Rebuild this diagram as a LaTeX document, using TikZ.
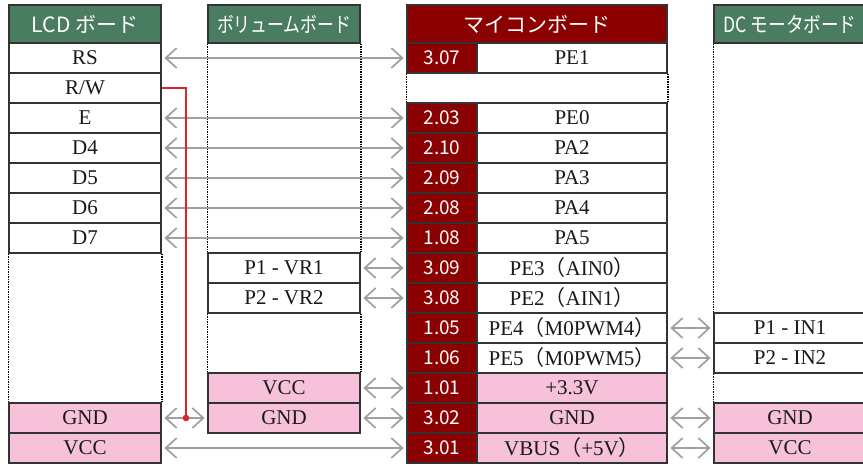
\documentclass[tikz,border=0pt]{standalone}
\usepackage{graphicx}
\usepackage{fontspec}
\setmainfont{Liberation Serif}
\newfontfamily\cjk{Noto Sans CJK JP}
\usetikzlibrary{arrows.meta}
\definecolor{hdrgreen}{HTML}{4A7C62}
\definecolor{mcured}{HTML}{8B0000}
\definecolor{pinkcell}{HTML}{F6C1D9}
\definecolor{bordergray}{HTML}{333333}
\definecolor{arrowgray}{HTML}{A0A0A0}
\definecolor{wirered}{HTML}{D9262E}
\newcommand{\fp}[1]{{\cjk #1}}
\tikzset{
 cell/.style={draw=bordergray, line width=1.8pt, minimum height=30pt, inner sep=0pt,
   font=\fontsize{21}{21}\selectfont, text=black!90, fill=white},
 widecell/.style={cell, minimum width=152pt},
 namecell/.style={cell, minimum width=190pt},
 numcell/.style={cell, minimum width=70pt, fill=mcured, text=white, font=\cjk\fontsize{19}{19}\selectfont},
 pinkfill/.style={fill=pinkcell},
 hdr/.style={draw=bordergray, line width=1.8pt, minimum height=38pt, inner sep=0pt,
   text=white, font=\cjk\fontsize{21}{21}\selectfont},
 conn/.style={draw=arrowgray, line width=1.7pt,
   {Straight Barb[length=11pt,width=20pt]}-{Straight Barb[length=11pt,width=20pt]},
   shorten <=2.5pt, shorten >=2.5pt},
 dotline/.style={draw=black, line width=1.2pt, dash pattern=on 1.2pt off 1.3pt},
 wire/.style={draw=wirered, line width=1.5pt},
}
\begin{document}
\begin{tikzpicture}[x=1pt,y=-1pt]
\clip (0,0) rectangle (863,467);
\fill[white] (0,0) rectangle (863,467);

% ---------- headers ----------
\node[hdr, fill=hdrgreen, minimum width=152pt] (lcdHdr) at (85,24) {LCD ボード};
\node[hdr, fill=hdrgreen, minimum width=152pt] (volHdr) at (284,24) {\scalebox{0.8}[1]{ボリュームボード}};
\node[hdr, fill=mcured, minimum width=260pt] (mcuHdr) at (537,24) {マイコンボード};
\node[hdr, fill=hdrgreen, minimum width=152pt] (dcHdr) at (790,24) {\scalebox{0.84}[1]{DC モータボード}};

% ---------- LCD board ----------
\node[widecell] (lcdRS)  at (85,58)  {RS};
\node[widecell] (lcdRW)  at (85,88)  {R/W};
\node[widecell] (lcdE)   at (85,118) {E};
\node[widecell] (lcdD4)  at (85,148) {D4};
\node[widecell] (lcdD5)  at (85,178) {D5};
\node[widecell] (lcdD6)  at (85,208) {D6};
\node[widecell] (lcdD7)  at (85,238) {D7};
\node[widecell, pinkfill] (lcdGND) at (85,418) {GND};
\node[widecell, pinkfill] (lcdVCC) at (85,448) {VCC};

% ---------- volume board ----------
\node[widecell] (volVR1) at (284,268) {P1 - VR1};
\node[widecell] (volVR2) at (284,298) {P2 - VR2};
\node[widecell, pinkfill] (volVCC) at (284,388) {VCC};
\node[widecell, pinkfill] (volGND) at (284,418) {GND};

% ---------- microcontroller board ----------
\node[numcell] (numRS)  at (442,58)  {3.07};
\node[namecell] (nameRS) at (572,58) {PE1};
\node[numcell] (numE)   at (442,118) {2.03};
\node[namecell] (nameE) at (572,118) {PE0};
\node[numcell] (numD4)  at (442,148) {2.10};
\node[namecell] (nameD4) at (572,148) {PA2};
\node[numcell] (numD5)  at (442,178) {2.09};
\node[namecell] (nameD5) at (572,178) {PA3};
\node[numcell] (numD6)  at (442,208) {2.08};
\node[namecell] (nameD6) at (572,208) {PA4};
\node[numcell] (numD7)  at (442,238) {1.08};
\node[namecell] (nameD7) at (572,238) {PA5};
\node[numcell] (numVR1) at (442,268) {3.09};
\node[namecell] (nameVR1) at (572,268) {PE3\fp{（}AIN0\fp{）}};
\node[numcell] (numVR2) at (442,298) {3.08};
\node[namecell] (nameVR2) at (572,298) {PE2\fp{（}AIN1\fp{）}};
\node[numcell] (numIN1) at (442,328) {1.05};
\node[namecell] (nameIN1) at (572,328) {PE4\fp{（}M0PWM4\fp{）}};
\node[numcell] (numIN2) at (442,358) {1.06};
\node[namecell] (nameIN2) at (572,358) {PE5\fp{（}M0PWM5\fp{）}};
\node[numcell] (num33)  at (442,388) {1.01};
\node[namecell, pinkfill] (name33) at (572,388) {+3.3V};
\node[numcell] (numGND) at (442,418) {3.02};
\node[namecell, pinkfill] (nameGND) at (572,418) {GND};
\node[numcell] (numVB)  at (442,448) {3.01};
\node[namecell, pinkfill] (nameVB) at (572,448) {VBUS\fp{（}+5V\fp{）}};

% ---------- DC motor board ----------
\node[widecell] (dcIN1) at (790,328) {P1 - IN1};
\node[widecell] (dcIN2) at (790,358) {P2 - IN2};
\node[widecell, pinkfill] (dcGND) at (790,418) {GND};
\node[widecell, pinkfill] (dcVCC) at (790,448) {VCC};

% ---------- dotted placeholders ----------
\draw[dotline] (lcdD7.south west) -- (lcdGND.north west);
\draw[dotline] (lcdD7.south east) -- (lcdGND.north east);
\draw[dotline] (volHdr.south west) -- (volVR1.north west);
\draw[dotline] (volHdr.south east) -- (volVR1.north east);
\draw[dotline] (volVR2.south west) -- (volVCC.north west);
\draw[dotline] (volVR2.south east) -- (volVCC.north east);
\draw[dotline] (numRS.south west) -- (numE.north west);
\draw[dotline] (nameRS.south east) -- (nameE.north east);
\draw[dotline] (dcHdr.south west) -- (dcIN1.north west);
\draw[dotline] (dcIN2.south west) -- (dcGND.north west);

% ---------- connectors ----------
\draw[conn] (lcdRS.east) -- (numRS.west);
\draw[conn] (lcdE.east) -- (numE.west);
\draw[conn] (lcdD4.east) -- (numD4.west);
\draw[conn] (lcdD5.east) -- (numD5.west);
\draw[conn] (lcdD6.east) -- (numD6.west);
\draw[conn] (lcdD7.east) -- (numD7.west);
\draw[conn] (lcdVCC.east) -- (numVB.west);
\draw[conn] (lcdGND.east) -- (volGND.west);
\draw[conn] (volVR1.east) -- (numVR1.west);
\draw[conn] (volVR2.east) -- (numVR2.west);
\draw[conn] (volVCC.east) -- (num33.west);
\draw[conn] (volGND.east) -- (numGND.west);
\draw[conn] (nameIN1.east) -- (dcIN1.west);
\draw[conn] (nameIN2.east) -- (dcIN2.west);
\draw[conn] (nameGND.east) -- (dcGND.west);
\draw[conn] (nameVB.east) -- (dcVCC.west);

% ---------- R/W tie to GND ----------
\coordinate (rwJoin) at (186,418);
\draw[wire] (lcdRW.east) -| (rwJoin);
\fill[wirered] (rwJoin) circle (3.3pt);
\end{tikzpicture}
\end{document}
